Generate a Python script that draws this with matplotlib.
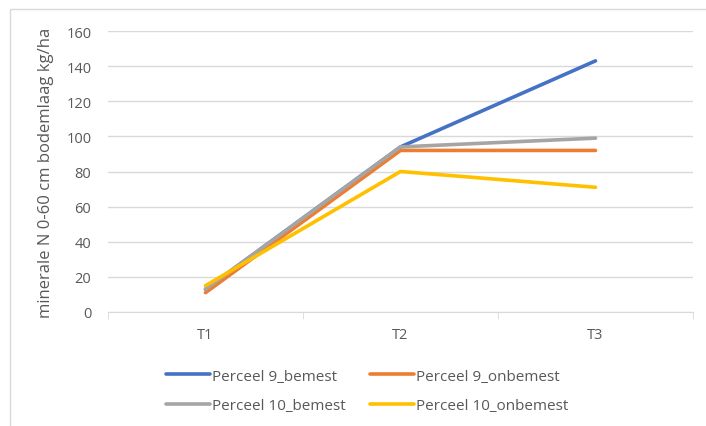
import matplotlib.pyplot as plt
from matplotlib.patches import Rectangle

# data
times = ["T1", "T2", "T3"]
p9_bemest = [13, 94, 143]
p9_onbemest = [11, 92, 92]
p10_bemest = [13, 94, 99]
p10_onbemest = [15, 80, 71]

series = [
    ("Perceel 9_bemest", p9_bemest, "#4472C4"),
    ("Perceel 9_onbemest", p9_onbemest, "#ED7D31"),
    ("Perceel 10_bemest", p10_bemest, "#A5A5A5"),
    ("Perceel 10_onbemest", p10_onbemest, "#FFC000"),
]

plt.rcParams['font.family'] = ['Open Sans', 'DejaVu Sans']
txt = "#595959"

fig = plt.figure(figsize=(7.06, 4.27), dpi=100)
# light chart border (top and left visible)
fig.patches.append(Rectangle((10 / 706, -0.1), 1.2, 1 - 10 / 427 + 0.1,
                             transform=fig.transFigure, fill=False,
                             edgecolor="#D9D9D9", linewidth=1))

ax = fig.add_axes([108 / 706, 1 - 313 / 427, (693 - 108) / 706, (313 - 32) / 427])

x = range(len(times))
lines = []
for name, vals, col in series:
    ln, = ax.plot(x, vals, color=col, linewidth=2.6, label=name, solid_capstyle="round")
    lines.append(ln)

ax.set_xlim(-0.5, 2.5)
ax.set_ylim(0, 160)
ax.set_yticks(range(0, 161, 20))
ax.set_xticks(list(x))
ax.set_xticklabels(times)
ax.set_xticks([-0.5, 0.5, 1.5, 2.5], minor=True)
ax.tick_params(axis="x", which="major", length=0, pad=11, labelsize=10.5, labelcolor=txt)
ax.tick_params(axis="x", which="minor", length=5, color="#D9D9D9", direction="out")
ax.tick_params(axis="y", length=0, pad=12, labelsize=10.5, labelcolor=txt)

ax.grid(axis="y", color="#D9D9D9", linewidth=1)
ax.set_axisbelow(True)
for s in ["top", "right", "left"]:
    ax.spines[s].set_visible(False)
ax.spines["bottom"].set_color("#D9D9D9")

ax.set_ylabel("minerale N 0-60 cm bodemlaag kg/ha", fontsize=12, color=txt, labelpad=9)

# legend filled row by row like the original
order = [0, 2, 1, 3]
fig.legend([lines[i] for i in order], [series[i][0] for i in order],
           loc="center", bbox_to_anchor=(0.52, 1 - 392 / 427), ncol=2, frameon=False,
           fontsize=11, handlelength=2.9, handletextpad=0.1, columnspacing=1.6,
           labelspacing=0.95, labelcolor=txt)

fig.savefig("out.png", dpi=100)
